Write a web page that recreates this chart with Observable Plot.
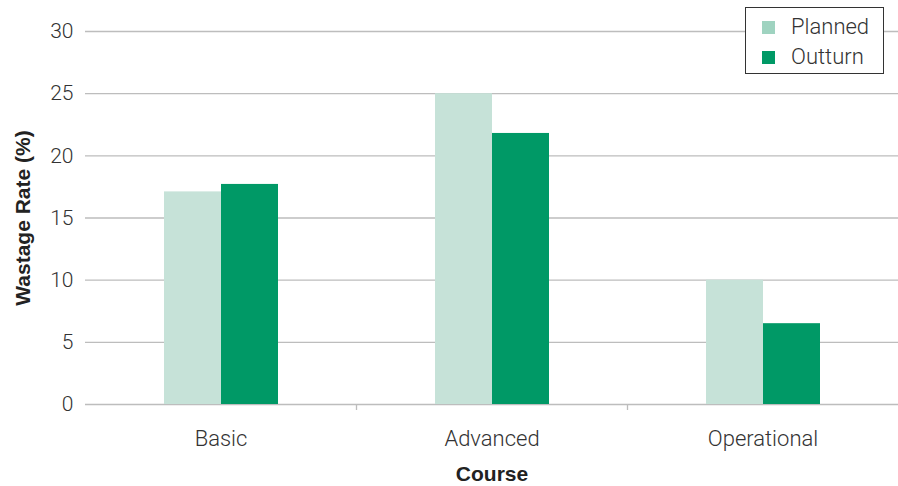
<!DOCTYPE html>
<html>
<head>
<meta charset="utf-8">
<script src="https://cdn.jsdelivr.net/npm/d3@7"></script>
<script src="https://cdn.jsdelivr.net/npm/@observablehq/plot@0.6"></script>
<style>
  html, body { margin: 0; padding: 0; background: #fff; }
  #wrap { position: relative; width: 898px; height: 486px; font-family: Roboto, "Liberation Sans", sans-serif; color: #333; }
  #wrap svg text { font-family: Roboto, "Liberation Sans", sans-serif; }
  #wrap g[aria-label="y-axis tick label"] text { font-weight: 300; font-size: 21px; }
  #wrap g[aria-label="fx-axis tick label"] text { font-weight: 300; font-size: 22px; }
  #wrap g[aria-label$="axis label"] text { font-family: "Liberation Sans", Arial, sans-serif; font-weight: 700; font-size: 21px; fill: #222; }
  #legend { position: absolute; left: 745px; top: 7px; width: 137px; height: 65px; border: 1.5px solid #333; background: #fff; box-sizing: content-box; }
  .row { position: absolute; left: 16px; display: flex; align-items: center; font-size: 22px; font-weight: 300; color: #333; line-height: 26px; }
  .sw { width: 13px; height: 13px; margin-right: 16px; }
</style>
</head>
<body>
<div id="wrap"></div>
<script>
const courses = ["Basic", "Advanced", "Operational"];
const series = ["Planned", "Outturn"];
const planned = [17.1, 25, 10];
const outturn = [17.7, 21.8, 6.5];
const yTicks = [0, 5, 10, 15, 20, 25, 30];
const barColors = ["#c6e2d8", "#009966"];
const swatchColors = ["#9fd3c0", "#009966"];

const data = courses.flatMap((c, i) => [
  {course: c, series: series[0], value: planned[i]},
  {course: c, series: series[1], value: outturn[i]}
]);

const W = 898, H = 486, ML = 85, MR = 0, MT = 31, MB = 82;
const step = (W - ML - MR) / courses.length;

const chart = Plot.plot({
  width: W, height: H,
  marginLeft: ML, marginRight: MR, marginTop: MT, marginBottom: MB,
  style: {fontSize: "20px", color: "#333", background: "transparent"},
  fx: {domain: courses, padding: 0, axis: null},
  x: {domain: series, paddingInner: 0, paddingOuter: 1.365, axis: null},
  y: {domain: [0, 30], axis: null},
  color: {domain: series, range: barColors},
  marks: [
    Plot.gridY(yTicks, {stroke: "#bdbdbd", strokeOpacity: 1, strokeWidth: 1.3}),
    Plot.barY(data, {fx: "course", x: "series", y: "value", fill: "series"}),
    Plot.axisY(yTicks, {tickSize: 0, tickPadding: 12, label: "Wastage Rate (%)", labelAnchor: "center", labelOffset: 70, labelArrow: "none"}),
    Plot.axisFx({anchor: "bottom", tickSize: 0, tickPadding: 26, label: "Course", labelAnchor: "center", labelOffset: 76}),
    Plot.axisFx({ticks: courses.slice(1), anchor: "bottom", tickSize: 6, tickFormat: () => "", dx: -step / 2, label: null, stroke: "#bdbdbd", strokeWidth: 1.3})
  ]
});

const wrap = document.getElementById("wrap");
wrap.appendChild(chart);

const legend = document.createElement("div");
legend.id = "legend";
series.forEach((s, i) => {
  const row = document.createElement("div");
  row.className = "row";
  row.style.top = (6 + i * 30) + "px";
  const sw = document.createElement("div");
  sw.className = "sw";
  sw.style.background = swatchColors[i];
  const t = document.createElement("span");
  t.textContent = s;
  row.appendChild(sw);
  row.appendChild(t);
  legend.appendChild(row);
});
wrap.appendChild(legend);
</script>
</body>
</html>
